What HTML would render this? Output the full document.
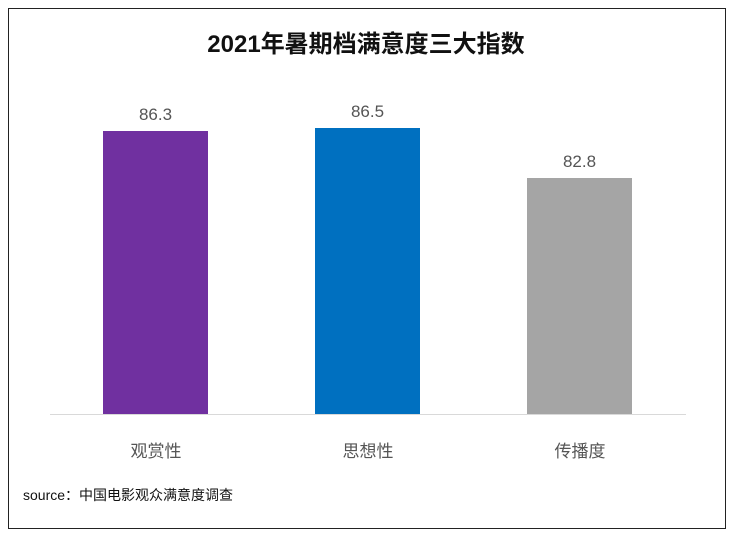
<!DOCTYPE html>
<html><head><meta charset="utf-8"><style>
body{margin:0;width:732px;height:536px;background:#fff;position:relative;overflow:hidden;font-family:"Liberation Sans","Noto Sans CJK SC",sans-serif}
.frame{position:absolute;left:8px;top:8px;width:718px;height:521px;border:1.5px solid #222;box-sizing:border-box}
.t{position:absolute;left:0;width:732px;top:24px;text-align:center;font-size:24px;font-weight:bold;color:#111}
.bar{position:absolute;bottom:121px;width:105px}
.v{position:absolute;width:105px;text-align:center;font-size:17px;color:#555}
.c{position:absolute;width:160px;text-align:center;font-size:17px;color:#555;top:437px}
.base{position:absolute;left:50px;width:636px;top:414px;height:1px;background:#d9d9d9}
.src{position:absolute;left:23px;top:485px;font-size:14px;color:#111}
</style></head><body>
<div class="frame"></div>
<div class="t">2021年暑期档满意度三大指数</div>
<div class="bar" style="left:103px;top:131px;background:#7030a0"></div>
<div class="bar" style="left:315px;top:128px;background:#0070c0"></div>
<div class="bar" style="left:527px;top:178px;background:#a5a5a5"></div>
<div class="v" style="left:103px;top:105px">86.3</div>
<div class="v" style="left:315px;top:102px">86.5</div>
<div class="v" style="left:527px;top:152px">82.8</div>
<div class="base"></div>
<div class="c" style="left:76px">观赏性</div>
<div class="c" style="left:288px">思想性</div>
<div class="c" style="left:500px">传播度</div>
<div class="src">source：中国电影观众满意度调查</div>
</body></html>
